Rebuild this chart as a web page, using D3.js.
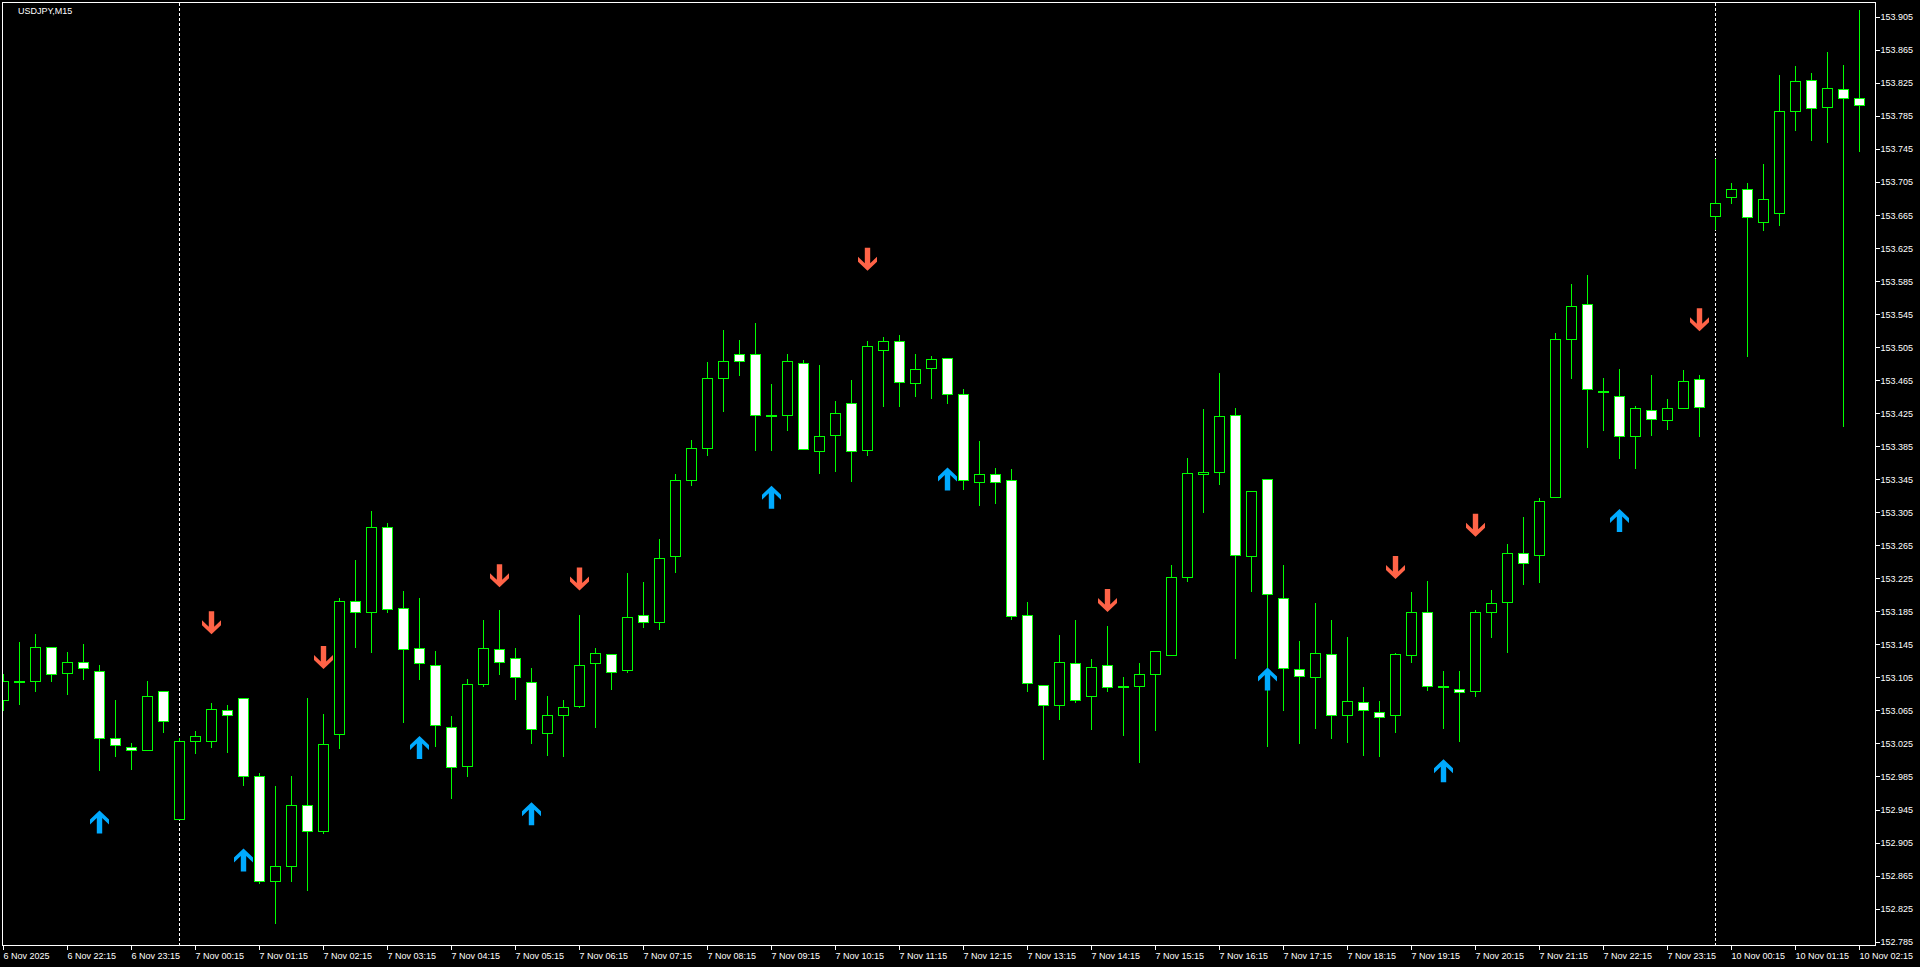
<!DOCTYPE html>
<html><head><meta charset="utf-8">
<script src="https://cdn.jsdelivr.net/npm/d3@7"></script>
<style>
html,body{margin:0;padding:0;background:#000;overflow:hidden}
svg{display:block}
text{font-family:"Liberation Sans",Arial,sans-serif;font-size:9px;fill:#fff}
</style></head><body>
<svg id="chart" width="1920" height="967"></svg>
<script>
const symbolTitle = "USDJPY,M15";
const timeLabels = ["6 Nov 2025","6 Nov 22:15","6 Nov 23:15","7 Nov 00:15","7 Nov 01:15","7 Nov 02:15","7 Nov 03:15","7 Nov 04:15","7 Nov 05:15","7 Nov 06:15","7 Nov 07:15","7 Nov 08:15","7 Nov 09:15","7 Nov 10:15","7 Nov 11:15","7 Nov 12:15","7 Nov 13:15","7 Nov 14:15","7 Nov 15:15","7 Nov 16:15","7 Nov 17:15","7 Nov 18:15","7 Nov 19:15","7 Nov 20:15","7 Nov 21:15","7 Nov 22:15","7 Nov 23:15","10 Nov 00:15","10 Nov 01:15","10 Nov 02:15"];
const labelBars = [0,4,8,12,16,20,24,28,32,36,40,44,48,52,56,60,64,68,72,76,80,84,88,92,96,100,104,108,112,116];
const priceTicks = ["153.905","153.865","153.825","153.785","153.745","153.705","153.665","153.625","153.585","153.545","153.505","153.465","153.425","153.385","153.345","153.305","153.265","153.225","153.185","153.145","153.105","153.065","153.025","152.985","152.945","152.905","152.865","152.825","152.785"];
const separatorBars = [11,107];

const opens = [
153.077,153.100,153.100,153.142,153.110,153.124,153.113,153.031,153.021,153.017,
153.088,152.933,153.028,153.028,153.066,153.080,152.985,152.859,152.877,152.951,
152.919,153.037,153.197,153.184,153.287,153.189,153.140,153.120,153.045,152.998,
153.097,153.139,153.129,153.099,153.038,153.060,153.070,153.122,153.133,153.114,
153.181,153.172,153.252,153.344,153.383,153.467,153.496,153.497,153.422,153.422,
153.485,153.379,153.398,153.437,153.380,153.501,153.512,153.461,153.479,153.491,
153.448,153.342,153.351,153.344,153.181,153.096,153.071,153.122,153.083,153.120,
153.095,153.094,153.109,153.132,153.227,153.351,153.354,153.423,153.252,153.345,
153.201,153.115,153.105,153.133,153.059,153.075,153.063,153.059,153.132,153.184,
153.095,153.091,153.089,153.184,153.196,153.255,153.253,153.323,153.514,153.557,
153.452,153.445,153.397,153.429,153.416,153.431,153.466,153.663,153.686,153.696,
153.656,153.667,153.791,153.828,153.795,153.817,153.806];
const highs = [
153.109,153.148,153.157,153.142,153.136,153.145,153.120,153.078,153.025,153.101,
153.088,153.031,153.040,153.074,153.071,153.080,152.989,152.973,152.986,153.080,
153.061,153.201,153.247,153.306,153.292,153.210,153.201,153.137,153.058,153.103,
153.175,153.187,153.140,153.116,153.083,153.077,153.180,153.141,153.133,153.231,
153.220,153.273,153.351,153.392,153.487,153.525,153.513,153.534,153.460,153.497,
153.489,153.483,153.439,153.465,153.512,153.517,153.519,153.497,153.494,153.491,
153.454,153.391,153.359,153.357,153.196,153.096,153.156,153.174,153.127,153.167,
153.106,153.122,153.137,153.241,153.370,153.430,153.474,153.431,153.331,153.345,
153.241,153.149,153.195,153.174,153.154,153.093,153.076,153.134,153.208,153.222,
153.113,153.113,153.187,153.211,153.266,153.299,153.322,153.522,153.581,153.592,
153.467,153.478,153.433,153.471,153.442,153.477,153.471,153.733,153.704,153.704,
153.726,153.834,153.845,153.837,153.862,153.846,153.913];
const lows = [
153.065,153.073,153.089,153.101,153.085,153.103,152.993,153.010,152.994,153.017,
153.039,152.933,153.014,153.021,153.015,152.975,152.856,152.808,152.859,152.847,
152.917,153.020,153.142,153.136,153.184,153.051,153.103,153.022,152.959,152.985,
153.094,153.109,153.079,153.026,153.011,153.010,153.069,153.045,153.091,153.111,
153.166,153.164,153.233,153.338,153.374,153.427,153.471,153.380,153.380,153.404,
153.381,153.352,153.355,153.343,153.374,153.434,153.434,153.446,153.443,153.437,
153.333,153.314,153.316,153.176,153.089,153.006,153.054,153.075,153.043,153.089,
153.035,153.002,153.041,153.132,153.222,153.305,153.339,153.128,153.209,153.022,
153.065,153.025,153.044,153.032,153.027,153.011,153.010,153.039,153.124,153.090,
153.044,153.028,153.083,153.154,153.136,153.218,153.220,153.323,153.467,153.384,
153.404,153.371,153.358,153.398,153.406,153.431,153.397,153.648,153.679,153.494,
153.647,153.653,153.767,153.756,153.753,153.409,153.742];
const closes = [
153.101,153.100,153.142,153.109,153.124,153.116,153.032,153.023,153.017,153.082,
153.052,153.028,153.034,153.067,153.060,152.986,152.858,152.877,152.951,152.919,
153.024,153.197,153.184,153.287,153.188,153.139,153.122,153.047,152.997,153.097,
153.141,153.123,153.105,153.042,153.059,153.069,153.120,153.134,153.112,153.178,
153.172,153.250,153.344,153.383,153.467,153.488,153.488,153.422,153.422,153.488,
153.381,153.397,153.425,153.379,153.506,153.512,153.462,153.478,153.490,153.448,
153.344,153.351,153.342,153.179,153.098,153.071,153.123,153.077,153.118,153.093,
153.095,153.109,153.137,153.226,153.352,153.353,153.421,153.253,153.331,153.206,
153.116,153.107,153.135,153.060,153.076,153.065,153.057,153.133,153.184,153.094,
153.093,153.087,153.184,153.195,153.256,153.243,153.319,153.514,153.554,153.454,
153.452,153.397,153.431,153.418,153.431,153.464,153.432,153.679,153.696,153.662,
153.684,153.791,153.827,153.794,153.819,153.806,153.798];

const upArrowBars = [6,15,26,33,48,59,79,90,101];
const upArrowPrices = [152.930,152.884,153.020,152.940,153.323,153.345,153.103,152.992,153.295];
const downArrowBars = [13,20,31,36,54,69,87,92,106];
const downArrowPrices = [153.171,153.129,153.228,153.224,153.611,153.198,153.238,153.289,153.538];

const W = 1920, H = 967;
const plotLeft = 2.5, plotTop = 2.5, plotRight = 1875.5, plotBottom = 945.5;
const bull = "#00ff00", bearFill = "#ffffff", bullFill = "#000000";

const svg = d3.select("#chart");
svg.append("rect").attr("width", W).attr("height", H).attr("fill", "#000");

const x = d3.scaleLinear().domain([0, 116]).range([3, 1859]);
const y = d3.scaleLinear().domain([152.785, 153.905]).range([941.7, 16.5]);

svg.append("defs").append("clipPath").attr("id", "plotclip")
  .append("rect").attr("x", 3).attr("y", 3).attr("width", 1872).attr("height", 942);

const plot = svg.append("g").attr("clip-path", "url(#plotclip)");

// period separators
plot.selectAll("line.sep").data(separatorBars).enter().append("line")
  .attr("x1", d => x(d) + 0.5).attr("x2", d => x(d) + 0.5)
  .attr("y1", 3).attr("y2", 945)
  .attr("stroke", "#fff").attr("stroke-width", 1).attr("stroke-dasharray", "3,2")
  .attr("shape-rendering", "crispEdges");

const bars = d3.range(opens.length).map(i => ({i, o: opens[i], h: highs[i], l: lows[i], c: closes[i]}));
const g = plot.selectAll("g.bar").data(bars).enter().append("g");
g.append("line")
  .attr("x1", d => x(d.i) + 0.5).attr("x2", d => x(d.i) + 0.5)
  .attr("y1", d => Math.round(y(d.h))).attr("y2", d => Math.round(y(d.l)) + 1)
  .attr("stroke", bull).attr("stroke-width", 1).attr("shape-rendering", "crispEdges");
g.append("rect")
  .attr("x", d => x(d.i) - 5 + 0.5)
  .attr("y", d => Math.round(y(Math.max(d.o, d.c))) + 0.5)
  .attr("width", 10)
  .attr("height", d => Math.max(1, Math.round(y(Math.min(d.o, d.c))) - Math.round(y(Math.max(d.o, d.c)))))
  .attr("fill", d => d.c < d.o ? bearFill : bullFill)
  .attr("stroke", bull).attr("stroke-width", 1).attr("shape-rendering", "crispEdges");

// arrows
const upPath = "M0,0 L9.5,9 L9.5,14 L2.7,7.5 L2.7,23 L-2.7,23 L-2.7,7.5 L-9.5,14 L-9.5,9 Z";
const downPath = "M0,23 L9.5,14 L9.5,9 L2.7,15.5 L2.7,0 L-2.7,0 L-2.7,15.5 L-9.5,9 L-9.5,14 Z";
plot.selectAll("path.up").data(upArrowBars).enter().append("path")
  .attr("d", upPath).attr("fill", "#00aaff")
  .attr("transform", (d, k) => `translate(${x(d) + 0.5},${y(upArrowPrices[k]) - 11.5})`);
plot.selectAll("path.down").data(downArrowBars).enter().append("path")
  .attr("d", downPath).attr("fill", "#ff6347")
  .attr("transform", (d, k) => `translate(${x(d) + 0.5},${y(downArrowPrices[k]) - 11.5})`);

// frame
svg.append("rect").attr("x", plotLeft).attr("y", plotTop)
  .attr("width", plotRight - plotLeft).attr("height", plotBottom - plotTop)
  .attr("fill", "none").attr("stroke", "#fff").attr("stroke-width", 1).attr("shape-rendering", "crispEdges");

// y axis
const yAxis = d3.axisRight(y).tickValues(priceTicks.map(Number))
  .tickFormat((d, k) => priceTicks[k]).tickSize(4).tickSizeOuter(0).tickPadding(1);
const ya = svg.append("g").attr("transform", `translate(${plotRight},0)`).call(yAxis);
ya.select(".domain").remove();
ya.selectAll("line").attr("stroke", "#fff").attr("shape-rendering", "crispEdges");
ya.selectAll("text").attr("fill", "#fff").attr("font-family", "Liberation Sans, Arial, sans-serif").attr("font-size", 9).attr("dy", "0.36em");

// x axis
const xAxis = d3.axisBottom(x).tickValues(labelBars)
  .tickFormat((d, k) => timeLabels[k]).tickSize(4).tickSizeOuter(0).tickPadding(3);
const xa = svg.append("g").attr("transform", `translate(0,${plotBottom})`).call(xAxis);
xa.select(".domain").remove();
xa.selectAll("line").attr("stroke", "#fff").attr("shape-rendering", "crispEdges");
xa.selectAll("text").attr("fill", "#fff").attr("text-anchor", "start").attr("x", 0)
  .attr("font-family", "Liberation Sans, Arial, sans-serif").attr("font-size", 9);

// title
svg.append("text").attr("x", 18).attr("y", 14).text(symbolTitle);
</script>
</body></html>
